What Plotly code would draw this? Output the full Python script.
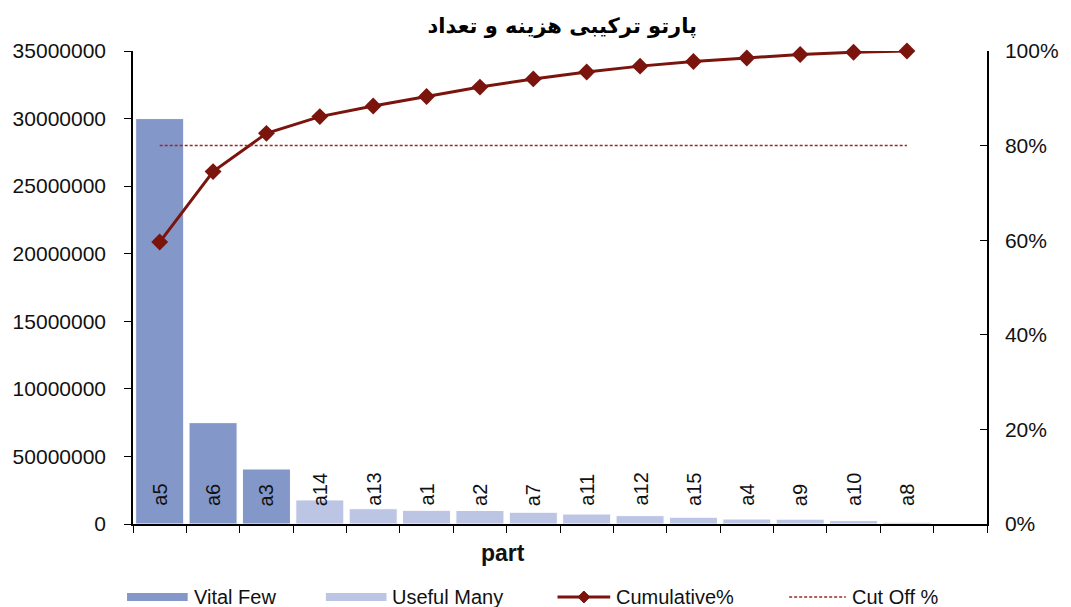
import plotly.graph_objects as go

# Pareto data: parts sorted by cost (descending)
parts = ["a5", "a6", "a3", "a14", "a13", "a1", "a2", "a7",
         "a11", "a12", "a15", "a4", "a9", "a10", "a8"]
costs = [30000000, 7500000, 4070000, 1780000, 1130000, 1010000, 1000000, 870000,
         740000, 620000, 500000, 370000, 360000, 250000, 130000]
vital_count = 3          # first parts form the "Vital Few" group
cutoff = 0.80            # cut-off level for the Pareto line

left_tickvals = [0, 5000000, 10000000, 15000000, 20000000, 25000000, 30000000, 35000000]
left_ticktext = ["0", "50000000", "10000000", "15000000", "20000000",
                 "25000000", "30000000", "35000000"]

n_slots = len(parts) + 1   # one empty slot after the last part

total = sum(costs)
cumulative = []
running = 0
for c in costs:
    running += c
    cumulative.append(running / total)

idx = list(range(len(parts)))
vital_idx = idx[:vital_count]
useful_idx = idx[vital_count:]

VITAL = "#8497c9"
USEFUL = "#bcc5e3"
LINE = "#7a140c"
DASH = "#9b2a22"
FONT = "Liberation Sans, Arial, sans-serif"

W, H = 1071, 607
ML, MR, MT, MB = 133, 79, 51, 83
PW, PH = W - ML - MR, H - MT - MB


def paper_x(px):
    return (px - ML) / PW


def paper_y(py):
    return (H - MB - py) / PH


fig = go.Figure()
fig.add_trace(go.Bar(
    x=vital_idx, y=costs[:vital_count], name="Vital Few",
    marker=dict(color=VITAL, line=dict(color="white", width=1)), width=0.9,
))
fig.add_trace(go.Bar(
    x=useful_idx, y=costs[vital_count:], name="Useful Many",
    marker=dict(color=USEFUL, line=dict(color="white", width=1)), width=0.9,
))
fig.add_trace(go.Scatter(
    x=idx, y=cumulative, yaxis="y2", name="Cumulative%", mode="lines+markers",
    line=dict(color=LINE, width=3), marker=dict(symbol="diamond", size=13, color=LINE),
    cliponaxis=False,
))
fig.add_trace(go.Scatter(
    x=idx, y=[cutoff] * len(idx), yaxis="y2", name="Cut Off %", mode="lines",
    line=dict(color=DASH, width=1.5, dash="3px,2px"),
))

# part names written upright inside the bars
for i, p in enumerate(parts):
    fig.add_annotation(
        x=i, y=0, xref="x", yref="y", text=p, showarrow=False, textangle=-90,
        yanchor="bottom", xanchor="center", yshift=16,
        font=dict(family=FONT, size=20, color="#111"),
    )

# x axis title
fig.add_annotation(
    x=paper_x(505), y=paper_y(553), xref="paper", yref="paper", text="<b>part</b>",
    showarrow=False, xanchor="center", yanchor="middle",
    font=dict(family=FONT, size=23, color="#111"),
)

fig.update_layout(
    width=W, height=H,
    margin=dict(l=ML, r=MR, t=MT, b=MB),
    paper_bgcolor="white", plot_bgcolor="white",
    barmode="overlay", showlegend=False,
    font=dict(family=FONT, size=20, color="#111"),
    title=dict(
        text="<b>پارتو ترکیبی هزینه و تعداد</b>", x=0.525, xanchor="center",
        y=0.958, yanchor="middle",
        font=dict(family="DejaVu Sans", size=21, color="#000"),
    ),
    xaxis=dict(
        range=[-0.5, n_slots - 0.5], showgrid=False, zeroline=False,
        showline=True, linecolor="#000", linewidth=1.5,
        tickmode="array", tickvals=[k - 0.5 for k in range(n_slots + 1)],
        ticks="outside", ticklen=7, tickcolor="#000", showticklabels=False,
    ),
    yaxis=dict(
        range=[0, 35000000], showgrid=False, zeroline=False,
        showline=True, linecolor="#000", linewidth=1.5,
        tickmode="array", tickvals=left_tickvals, ticktext=left_ticktext,
        ticks="outside", ticklen=7, tickcolor="#000", ticklabelstandoff=14,
        tickfont=dict(family=FONT, size=21, color="#111"),
    ),
    yaxis2=dict(
        overlaying="y", side="right", range=[0, 1], showgrid=False, zeroline=False,
        showline=True, linecolor="#000", linewidth=1.5,
        tickmode="linear", tick0=0, dtick=0.2, tickformat=".0%",
        ticks="inside", ticklen=7, tickcolor="#000", ticklabelstandoff=12,
        tickfont=dict(family=FONT, size=21, color="#111"),
    ),
)

# legend drawn along the bottom edge
leg_y = 597
legend_items = [
    ("Vital Few", "bar", VITAL, 127, 188),
    ("Useful Many", "bar", USEFUL, 327, 388),
    ("Cumulative%", "line", LINE, 560, 613),
    ("Cut Off %", "dash", DASH, 793, 850),
]
for label, kind, color, x0, x1 in legend_items:
    if kind == "bar":
        fig.add_shape(type="rect", xref="paper", yref="paper",
                      x0=paper_x(x0), x1=paper_x(x1),
                      y0=paper_y(leg_y + 4), y1=paper_y(leg_y - 4),
                      fillcolor=color, line=dict(width=0))
    elif kind == "line":
        fig.add_shape(type="line", xref="paper", yref="paper",
                      x0=paper_x(x0), x1=paper_x(x1), y0=paper_y(leg_y), y1=paper_y(leg_y),
                      line=dict(color=color, width=3))
        cx, r = (x0 + x1) / 2, 6
        path = "M {} {} L {} {} L {} {} L {} {} Z".format(
            paper_x(cx - r), paper_y(leg_y), paper_x(cx), paper_y(leg_y - r),
            paper_x(cx + r), paper_y(leg_y), paper_x(cx), paper_y(leg_y + r))
        fig.add_shape(type="path", xref="paper", yref="paper", path=path,
                      fillcolor=color, line=dict(color=color, width=1))
    else:
        fig.add_shape(type="line", xref="paper", yref="paper",
                      x0=paper_x(x0), x1=paper_x(x1), y0=paper_y(leg_y), y1=paper_y(leg_y),
                      line=dict(color=color, width=1.5, dash="3px,2px"))
    fig.add_annotation(
        x=paper_x(x1 + 4), y=paper_y(leg_y), xref="paper", yref="paper",
        text=label, showarrow=False, xanchor="left", yanchor="middle",
        font=dict(family=FONT, size=20, color="#111"),
    )

fig.write_html("out.html")
